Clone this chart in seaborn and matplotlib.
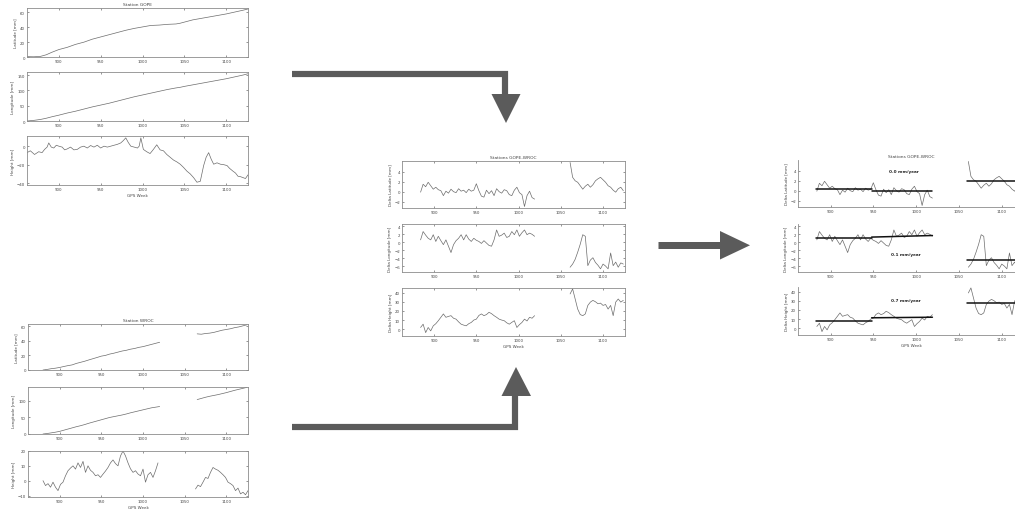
# GPS station time series: GOPE, WROC and their difference
import numpy as np
import pandas as pd
import matplotlib
matplotlib.use("Agg")
import matplotlib.pyplot as plt
import seaborn as sns

sns.set_theme(style="ticks")
plt.rcParams['font.family'] = ['DejaVu Sans']

# ---------------- data ----------------

# GOPE coordinates
gope_pos_weeks = [862, 870, 878, 885, 892, 900, 910, 920, 930, 940, 950, 960, 970, 980, 990,
                  1000, 1010, 1020, 1030, 1040, 1045, 1050, 1060, 1070, 1080, 1090, 1100, 1110, 1120, 1127]
gope_lat = [0.5, 0.3, 0.8, 3, 6.5, 10, 13, 17, 20, 24, 27, 30, 33, 36, 38.5,
            40.5, 42.5, 43, 44, 44.5, 45.5, 47, 50, 52, 54, 56, 58, 60.5, 63, 65]
gope_lon = [0, 2, 5, 9, 14, 19, 26, 32, 39, 46, 52, 58, 65, 72, 79,
            85, 91, 97, 103, 108, 110, 113, 118, 123, 128, 133, 138, 144, 150, 155]

gope_h_weeks = [862, 866, 871, 876, 880, 883, 886, 888, 891, 894, 897, 900, 904, 907, 910, 914, 918, 922,
                926, 930, 934, 938, 942, 946, 950, 954, 958, 962, 966, 970, 974, 977, 980, 983, 986, 990,
                994, 996, 998, 1001, 1005, 1009, 1013, 1017, 1021, 1025, 1029, 1033, 1037, 1041, 1045, 1049,
                1053, 1057, 1061, 1065, 1069, 1073, 1076, 1079, 1082, 1085, 1089, 1093, 1097, 1101, 1104,
                1108, 1111, 1114, 1117, 1120, 1123, 1126]
gope_h = [-7, -5, -9, -6, -7, -3.5, -1, 3.5, -1, -2, 1, 0, -1, -4, -3, -1, -4, -3.5,
          -1, 0, -2, 0.7, -1, 1, -2, 0, -1, 0, 1, 2, 3.5, 6, 9, 4, 0, -1,
          -2, 0, 9, -3.5, -6, -8, -3.5, 1.5, -4, -5, -9, -12, -15, -17, -19.5, -23,
          -27, -30, -34, -39, -38, -21, -12, -7, -14, -19.5, -18, -19.5, -20, -21, -24,
          -27, -29, -32.5, -33, -34, -35, -31]

# WROC coordinates (two observing periods)
wroc_pos_weeks_a = list(range(880, 1021, 5))
wroc_pos_weeks_b = list(range(1065, 1126, 5))
wroc_lat_a = [0, 0.8, 1.8, 2.5, 3.5, 4.8, 6.0, 7.0, 9.0, 10.5, 12.0, 13.8, 15.5, 17.2, 19.0,
              20.0, 21.8, 23.0, 24.5, 26.0, 27.0, 28.5, 29.5, 31.0, 32.0, 33.5, 35.0, 36.5, 38.0]
wroc_lat_b = [49.5, 49.0, 50.0, 50.5, 51.5, 53.0, 54.5, 55.5, 56.5, 58.0, 59.0, 60.5, 62.0]
wroc_lon_a = [0, 1.5, 3.5, 5.5, 8, 11.5, 15, 18.5, 22, 25, 28.5, 32.5, 36, 39.5, 43,
              46.5, 50, 52.5, 55, 57.5, 60.5, 64, 67, 70, 73, 76, 79, 81, 83]
wroc_lon_b = [104, 107.5, 111, 114, 116.5, 119, 122, 125, 128.5, 132, 135, 138, 141]

wroc_h_weeks_a = list(range(880, 1021, 3))
wroc_h_weeks_b = list(range(1063, 1127, 3))
wroc_h_a = [0.0, -3.3, -2.0, -4.4, -1.0, -4.4, -6.7, -2.5, -1.0, 3.3,
            6.7, 8.5, 10.0, 7.8, 12.0, 8.9, 13.0, 5.6, 10.0, 7.0,
            5.6, 3.3, 4.0, 2.2, 4.4, 6.5, 8.9, 12.0, 14.0, 11.5,
            10.0, 16.7, 20.0, 16.7, 12.0, 8.0, 5.6, 6.7, 4.5, 3.3,
            7.8, -1.0, 4.0, 5.6, 2.2, 6.7, 12.0]
wroc_h_b = [-5.6, -3.0, -4.0, -1.0, 2.2, 1.5, 5.6, 8.9, 7.8, 7.0, 5.6,
            4.0, 2.2, -1.0, -2.0, -3.3, -6.7, -5.0, -8.9, -7.8, -9.5, -6.7]

# GOPE - WROC differences
delta_weeks_a = list(range(884, 1022, 3))
delta_weeks_b = list(range(1061, 1125, 3))
d_lat_a = [-0.1, 1.5, 1.0, 1.9, 1.2, 0.5, 0.9, 0.4, 0.2, -0.8,
           0.1, -0.3, 0.5, 0.0, -0.2, 0.6, 0.1, 0.3, -0.2, 0.5,
           0.1, 0.3, 1.6, 0.2, -0.9, -1.1, 0.3, -0.4, 0.2, -0.8,
           0.6, 0.0, -0.3, 0.4, 0.2, -0.6, -0.8, 0.3, 0.9, -0.2,
           -0.6, -3.0, -0.8, 0.1, -1.2, -1.5]
d_lat_b = [5.9, 2.9, 2.2, 1.9, 1.2, 0.5, 1.1, 1.5, 0.9, 1.4, 2.2,
           2.6, 2.9, 2.4, 1.9, 1.2, 0.9, 0.3, -0.1, 0.6, 0.9, 0.2]
d_lon_a = [0.6, 2.7, 1.8, 1.0, 0.6, 1.9, 0.2, 1.5, 0.4, -0.6,
           0.6, -1.0, -2.6, -0.6, 0.4, 1.0, 1.9, 0.6, 1.9, 0.8,
           0.2, 1.0, 0.5, 0.2, -0.3, 0.4, -0.2, -0.8, -1.0, 0.6,
           3.1, 1.5, 1.8, 2.3, 1.2, 1.5, 2.7, 1.9, 3.1, 1.5,
           2.4, 3.1, 1.9, 2.3, 2.0, 1.5]
d_lon_b = [-6.3, -5.5, -4.3, -2.5, -0.5, 1.9, 1.5, -5.9, -4.5, -3.9, -5.1,
           -5.8, -6.7, -5.5, -6.0, -6.7, -2.7, -5.9, -5.0, -6.3, -5.2, -5.5]
d_h_a = [1.9, 5.5, -3.7, 1.9, -1.8, 3.7, 6.0, 9.3, 13.0, 16.7,
         13.0, 14.0, 14.8, 12.0, 11.0, 8.0, 5.5, 4.5, 3.7, 6.0,
         7.4, 10.0, 11.0, 15.0, 16.7, 14.8, 16.0, 18.5, 17.0, 14.8,
         13.0, 11.0, 10.0, 9.3, 7.0, 5.5, 7.5, 9.3, 1.9, 5.0,
         7.4, 11.0, 9.0, 13.0, 12.0, 14.8]
d_h_b = [38.5, 44.0, 33.0, 22.0, 16.0, 14.8, 16.7, 26.0, 29.6, 31.5, 30.0,
         27.8, 28.5, 26.0, 27.0, 22.0, 26.0, 14.8, 29.6, 33.0, 29.6, 31.5]

# fitted trend pieces (start week, end week, start value, end value)
trend_start = [883, 948, 1059]
trend_end = [948, 1019, 1125]
trend_lat_v0 = [0.4, 0.0, 1.9]
trend_lat_v1 = [0.4, 0.0, 1.9]
trend_lon_v0 = [1.0, 1.3, -4.5]
trend_lon_v1 = [1.0, 1.7, -4.5]
trend_h_v0 = [7.8, 11.4, 27.7]
trend_h_v1 = [7.8, 12.0, 27.7]
rates = ["0.0 mm/year", "0.1 mm/year", "0.7 mm/year"]

# ---------------- drawing ----------------
LINE = "#6c6c6c"
AXC = "#8c8c8c"
TXT = "#444444"
ARROW = "#5b5b5b"
W, H = 1015, 510

fig = plt.figure(figsize=(W / 100, H / 100), dpi=100)


def box(x0, y0, x1, y1):
    return [x0 / W, 1 - y1 / H, (x1 - x0) / W, (y1 - y0) / H]


def frame(*parts):
    rows = []
    for i, (wk, val) in enumerate(parts):
        rows.append(pd.DataFrame({"week": list(wk), "val": list(val), "seg": i}))
    return pd.concat(rows, ignore_index=True)


def panel(rect, df, ylim, yticks, ylabel, boxed=True, xlabel=None, title=None):
    ax = fig.add_axes(box(*rect))
    sns.lineplot(data=df, x="week", y="val", units="seg", estimator=None,
                 color=LINE, lw=0.5, ax=ax, legend=False)
    ax.set_xlim(862, 1126)
    ax.set_ylim(*ylim)
    ax.set_xticks([900, 950, 1000, 1050, 1100])
    ax.set_yticks(yticks)
    ax.tick_params(labelsize=2.8, colors=TXT, length=1.5, width=0.4, pad=1.5,
                   direction="in", top=boxed, right=boxed)
    ax.set_xlabel(xlabel if xlabel else "", fontsize=3, color=TXT, labelpad=1.5)
    ax.set_ylabel(ylabel, fontsize=3, color=TXT, labelpad=1.5)
    for s in ax.spines.values():
        s.set_color(AXC)
        s.set_linewidth(0.6)
    if not boxed:
        sns.despine(ax=ax, top=True, right=True)
    if title:
        ax.set_title(title, fontsize=3.2, color=TXT, pad=2)
    return ax


# Station GOPE
panel((27, 9, 248, 58), frame((gope_pos_weeks, gope_lat)), (0, 66), [0, 20, 40, 60],
      "Latitude [mm]", title="Station GOPE")
panel((27, 73, 248, 122), frame((gope_pos_weeks, gope_lon)), (0, 160), [0, 50, 100, 150],
      "Longitude [mm]")
panel((27, 137, 248, 186), frame((gope_h_weeks, gope_h)), (-42, 11), [-40, -20, 0],
      "Height [mm]", xlabel="GPS Week")

# Station WROC
panel((28, 325, 248, 371), frame((wroc_pos_weeks_a, wroc_lat_a), (wroc_pos_weeks_b, wroc_lat_b)),
      (0, 63), [0, 20, 40, 60], "Latitude [mm]", title="Station WROC")
panel((28, 388, 248, 435), frame((wroc_pos_weeks_a, wroc_lon_a), (wroc_pos_weeks_b, wroc_lon_b)),
      (0, 142), [0, 50, 100], "Longitude [mm]")
panel((28, 452, 248, 498), frame((wroc_h_weeks_a, wroc_h_a), (wroc_h_weeks_b, wroc_h_b)),
      (-11, 20), [-10, 0, 10, 20], "Height [mm]", xlabel="GPS Week")

# differences, middle and right
d_lat = frame((delta_weeks_a, d_lat_a), (delta_weeks_b, d_lat_b))
d_lon = frame((delta_weeks_a, d_lon_a), (delta_weeks_b, d_lon_b))
d_h = frame((delta_weeks_a, d_h_a), (delta_weeks_b, d_h_b))
lims = [((-3.3, 6.2), [-2, 0, 2, 4]), ((-7.5, 4.6), [-6, -4, -2, 0, 2, 4]),
        ((-7.4, 45), [0, 10, 20, 30, 40])]
labels = ["Delta Latitude [mm]", "Delta Longitude [mm]", "Delta Height [mm]"]
series = [d_lat, d_lon, d_h]

mid_rows = [(162, 209), (225, 273), (289, 337)]
for i in range(3):
    panel((402, mid_rows[i][0], 625, mid_rows[i][1]), series[i], lims[i][0], lims[i][1], labels[i],
          xlabel="GPS Week" if i == 2 else None, title="Stations GOPE-WROC" if i == 0 else None)

trends = [(trend_lat_v0, trend_lat_v1), (trend_lon_v0, trend_lon_v1), (trend_h_v0, trend_h_v1)]
rate_pos = [(986, 4.0), (988, -3.0), (988, 30.8)]
right_rows = [(161, 208), (225, 273), (288, 336)]
for i in range(3):
    ax = panel((798, right_rows[i][0], 1024, right_rows[i][1]), series[i], lims[i][0], lims[i][1],
               labels[i], boxed=False, xlabel="GPS Week" if i == 2 else None,
               title="Stations GOPE-WROC" if i == 0 else None)
    v0, v1 = trends[i]
    tdf = pd.DataFrame({"week": trend_start + trend_end, "val": v0 + v1,
                        "seg": list(range(3)) * 2})
    sns.lineplot(data=tdf, x="week", y="val", units="seg", estimator=None,
                 color="#111111", lw=1.1, ax=ax, legend=False)
    ax.set_xlabel("GPS Week" if i == 2 else "", fontsize=3, color=TXT, labelpad=1.5)
    ax.set_ylabel(labels[i], fontsize=3, color=TXT, labelpad=1.5)
    ax.text(rate_pos[i][0], rate_pos[i][1], rates[i], fontsize=3, fontweight="bold",
            color="#222222", ha="center", va="center")

# arrows
ov = fig.add_axes([0, 0, 1, 1])
ov.set_xlim(0, W)
ov.set_ylim(H, 0)
ov.axis("off")
ov.patch.set_alpha(0)
lw_px = 6.2 * 72 / 100
ov.plot([292, 505.5, 505.5], [74.5, 74.5, 97], color=ARROW, lw=lw_px,
        solid_joinstyle="miter", solid_capstyle="butt")
ov.fill([491.5, 520.5, 506], [95, 95, 124], color=ARROW, lw=0)
ov.plot([292, 515, 515], [428, 428, 395], color=ARROW, lw=lw_px,
        solid_joinstyle="miter", solid_capstyle="butt")
ov.fill([501.5, 531, 516], [397, 397, 368], color=ARROW, lw=0)
ov.plot([658, 722], [246.3, 246.3], color=ARROW, lw=7 * 72 / 100, solid_capstyle="butt")
ov.fill([720, 720, 750], [232, 260.5, 246.3], color=ARROW, lw=0)

fig.savefig("out.png", dpi=100)
